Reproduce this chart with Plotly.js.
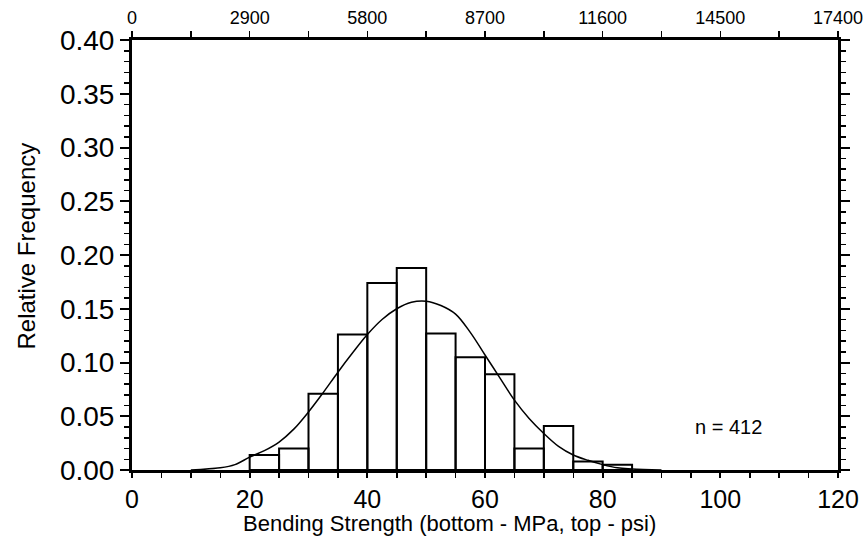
<!DOCTYPE html>
<html>
<head>
<meta charset="utf-8">
<script src="https://cdn.plot.ly/plotly-3.0.1.min.js"></script>
<style>
html,body{margin:0;padding:0;background:#fff;}
#chart{width:865px;height:544px;}
</style>
</head>
<body>
<div id="chart"></div>
<script>
// Histogram bins (MPa), bin width 5
const binCenters = [22.5, 27.5, 32.5, 37.5, 42.5, 47.5, 52.5, 57.5, 62.5, 67.5, 72.5, 77.5, 82.5];
const relFreq = [0.014, 0.020, 0.071, 0.126, 0.174, 0.188, 0.127, 0.105, 0.089, 0.020, 0.041, 0.008, 0.005];
// Fitted curve
const curveX = [10, 15, 17.5, 20, 22.5, 25, 27.5, 30, 32.5, 35, 37.5, 40, 42.5, 45, 47.5, 50, 52.5, 55, 57.5, 60, 62.5, 65, 67.5, 70, 72.5, 75, 77.5, 80, 82.5, 85, 90];
const curveY = [0.000, 0.002, 0.005, 0.012, 0.018, 0.026, 0.038, 0.054, 0.072, 0.091, 0.109, 0.126, 0.140, 0.150, 0.156, 0.157, 0.153, 0.145, 0.128, 0.107, 0.086, 0.065, 0.048, 0.034, 0.022, 0.014, 0.009, 0.005, 0.002, 0.001, 0.000];
// Tick labels
const bottomTicks = [0, 20, 40, 60, 80, 100, 120];
const yTicks = [0, 0.05, 0.10, 0.15, 0.20, 0.25, 0.30, 0.35, 0.40];
const topTicks = [0, 2900, 5800, 8700, 11600, 14500, 17400];
const sampleLabel = "n = 412";

const FONT = '"Liberation Sans", Arial, sans-serif';

const data = [
  {type: 'bar', x: binCenters, y: relFreq, width: 5,
   marker: {color: 'rgba(255,255,255,0)', line: {color: '#000', width: 2}},
   hoverinfo: 'skip', showlegend: false},
  {type: 'scatter', mode: 'lines', x: curveX, y: curveY,
   line: {color: '#000', width: 1.5, shape: 'spline'}, showlegend: false},
  {type: 'scatter', mode: 'markers', x: [topTicks[0]], y: [0], xaxis: 'x2', yaxis: 'y2',
   marker: {opacity: 0}, hoverinfo: 'skip', showlegend: false}
];

const layout = {
  width: 865, height: 544,
  margin: {l: 132, r: 27, t: 40, b: 74},
  paper_bgcolor: '#fff', plot_bgcolor: '#fff',
  font: {family: FONT, color: '#000', size: 24},
  bargap: 0,
  xaxis: {
    range: [0, 120], tickmode: 'array', tickvals: bottomTicks, ticktext: bottomTicks.map(String),
    showgrid: false, zeroline: false, showline: true, linecolor: '#000', linewidth: 3,
    ticks: 'outside', ticklen: 5, tickwidth: 2, tickcolor: '#000',
    minor: {dtick: 5, tick0: 0, ticks: 'outside', ticklen: 5, tickwidth: 1.5, tickcolor: '#000', showgrid: false},
    tickfont: {family: FONT, size: 25}
  },
  yaxis: {
    range: [0, 0.40], tickmode: 'array', tickvals: yTicks, ticktext: yTicks.map(v => v.toFixed(2)),
    showgrid: false, zeroline: false, showline: true, linecolor: '#000', linewidth: 3,
    ticks: 'outside', ticklen: 9, tickwidth: 2, tickcolor: '#000',
    minor: {dtick: 0.01, tick0: 0, ticks: 'outside', ticklen: 5, tickwidth: 1.5, tickcolor: '#000', showgrid: false},
    tickfont: {family: FONT, size: 28}
  },
  xaxis2: {
    overlaying: 'x', side: 'top', anchor: 'y', range: [0, 17400],
    tickmode: 'array', tickvals: topTicks, ticktext: topTicks.map(String),
    showgrid: false, zeroline: false, showline: true, linecolor: '#000', linewidth: 3,
    ticks: 'outside', ticklen: 6, tickwidth: 1.5, tickcolor: '#000', ticklabeloverflow: 'allow',
    minor: {dtick: 1450, tick0: 0, ticks: 'outside', ticklen: 6, tickwidth: 1.5, tickcolor: '#000', showgrid: false},
    tickfont: {family: FONT, size: 18}
  },
  yaxis2: {
    overlaying: 'y', side: 'right', anchor: 'x', range: [0, 0.40],
    showticklabels: false, tickmode: 'array', tickvals: yTicks,
    showgrid: false, zeroline: false, showline: true, linecolor: '#000', linewidth: 3,
    ticks: 'outside', ticklen: 9, tickwidth: 2, tickcolor: '#000',
    minor: {dtick: 0.01, tick0: 0, ticks: 'outside', ticklen: 5, tickwidth: 1.5, tickcolor: '#000', showgrid: false}
  },
  annotations: [
    {xref: 'paper', yref: 'paper', x: 0.45, y: -0.125, yanchor: 'middle', xanchor: 'center', showarrow: false,
     text: 'Bending Strength (bottom - MPa, top - psi)', font: {family: FONT, size: 22}},
    {xref: 'paper', yref: 'paper', x: -0.15, y: 0.52, xanchor: 'center', yanchor: 'middle', textangle: -90, showarrow: false,
     text: 'Relative Frequency', font: {family: FONT, size: 24}},
    {xref: 'x', yref: 'y', x: 101.4, y: 0.040, xanchor: 'center', yanchor: 'middle', showarrow: false,
     text: sampleLabel, font: {family: FONT, size: 20}}
  ]
};

Plotly.newPlot('chart', data, layout, {displayModeBar: false, staticPlot: true});
</script>
</body>
</html>
